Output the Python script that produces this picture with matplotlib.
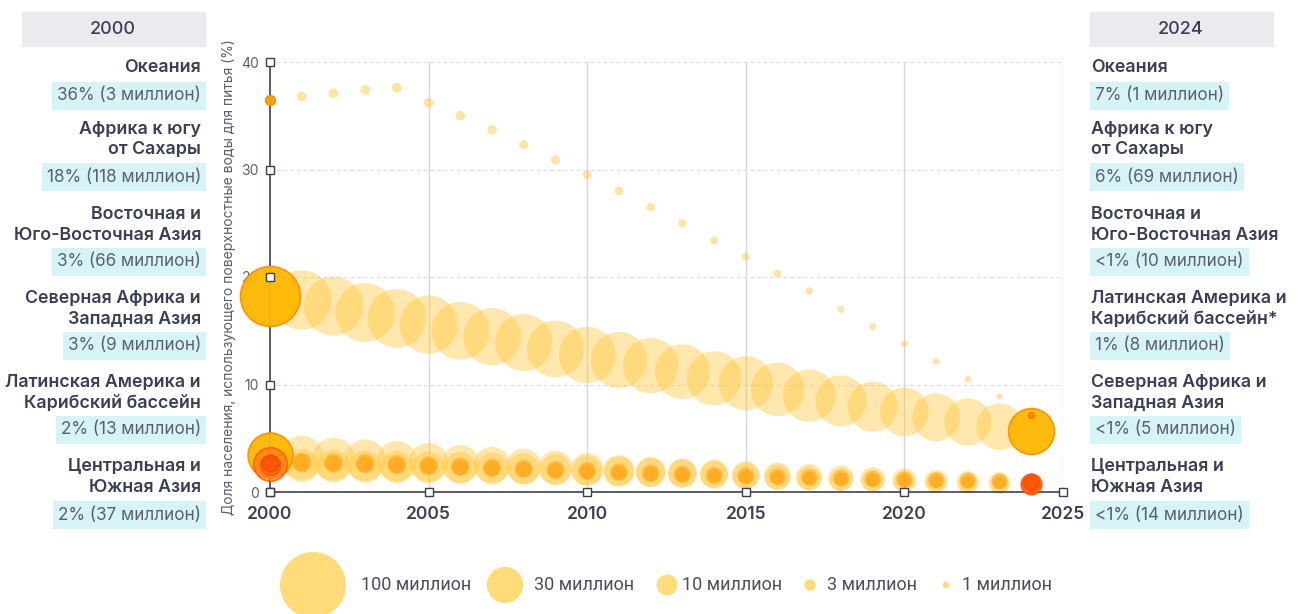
import numpy as np
import matplotlib.pyplot as plt

# ---- data ----
years = list(range(2000, 2025))

oceania_pct = [36.5, 36.8, 37.1, 37.4, 37.6, 36.2, 35.0, 33.7, 32.3, 30.9, 29.5, 28.0, 26.5,
               25.0, 23.4, 21.9, 20.3, 18.7, 17.0, 15.4, 13.8, 12.15, 10.5, 8.87, 7.2]
oceania_pop = [3.0, 3.1, 3.1, 3.1, 3.1, 3.0, 2.9, 2.8, 2.7, 2.6, 2.5, 2.4, 2.3,
               2.2, 2.1, 2.0, 1.9, 1.8, 1.7, 1.6, 1.5, 1.4, 1.3, 1.2, 1.0]

ssa_pct = [18.2, 17.86, 17.3, 16.7, 16.15, 15.57, 15.0, 14.45, 13.9, 13.3, 12.74, 12.28, 11.75,
           11.19, 10.57, 10.11, 9.55, 8.96, 8.47, 7.94, 7.44, 6.95, 6.51, 6.08, 5.67]
ssa_pop = [118, 116, 115, 114, 113, 111, 110, 108, 107, 106, 105, 103, 101,
           98, 97, 96, 94, 90, 86, 82, 78, 75, 73, 71, 69]

esea_pct = [3.44, 3.2, 3.05, 2.95, 2.85, 2.75, 2.62, 2.5, 2.38, 2.25, 2.1, 1.97, 1.85,
            1.72, 1.6, 1.48, 1.37, 1.27, 1.17, 1.08, 1.0, 0.93, 0.86, 0.8, 0.75]
esea_pop = [66, 63, 60, 57, 54, 50, 47, 44, 41, 38, 35, 32, 29,
            27, 25, 23, 21, 19, 17, 15.5, 14, 13, 12, 11, 10]

csa_pct = [2.6, 2.46, 2.42, 2.38, 2.34, 2.3, 2.25, 2.2, 2.14, 2.08, 2.0, 1.92, 1.84,
           1.76, 1.68, 1.58, 1.48, 1.38, 1.28, 1.18, 1.08, 0.98, 0.9, 0.83, 0.78]
csa_pop = [37, 36, 35.5, 35, 34.5, 34, 33.5, 33, 32, 31, 30, 29, 28,
           27, 26, 25, 24, 23, 21.5, 20, 19, 17.5, 16.5, 15.5, 14]

lac_pct = [2.55, 2.75, 2.7, 2.65, 2.55, 2.45, 2.35, 2.25, 2.15, 2.05, 1.95, 1.85, 1.75,
           1.65, 1.55, 1.5, 1.42, 1.35, 1.27, 1.2, 1.15, 1.1, 1.05, 1.0, 0.95]
lac_pop = [13, 12.8, 12.5, 12.3, 12.0, 11.8, 11.5, 11.2, 11.0, 10.7, 10.5, 10.2, 10.0,
           9.8, 9.6, 9.4, 9.2, 9.0, 8.8, 8.7, 8.5, 8.4, 8.2, 8.1, 8.0]

nawa_pct = [2.7, 2.72, 2.65, 2.58, 2.5, 2.4, 2.3, 2.2, 2.1, 2.0, 1.9, 1.8, 1.7,
            1.6, 1.5, 1.42, 1.34, 1.26, 1.18, 1.1, 1.03, 0.96, 0.9, 0.85, 0.8]
nawa_pop = [9, 8.9, 8.7, 8.5, 8.3, 8.1, 7.9, 7.7, 7.5, 7.3, 7.1, 6.9, 6.7,
            6.5, 6.3, 6.1, 5.9, 5.8, 5.6, 5.5, 5.4, 5.3, 5.2, 5.1, 5.0]

left_names = ["Океания", "Африка к югу\nот Сахары", "Восточная и\nЮго-Восточная Азия",
              "Северная Африка и\nЗападная Азия", "Латинская Америка и\nКарибский бассейн",
              "Центральная и\nЮжная Азия"]
left_values = ["36% (3 миллион)", "18% (118 миллион)", "3% (66 миллион)",
               "3% (9 миллион)", "2% (13 миллион)", "2% (37 миллион)"]
right_names = ["Океания", "Африка к югу\nот Сахары", "Восточная и\nЮго-Восточная Азия",
               "Латинская Америка и\nКарибский бассейн*", "Северная Африка и\nЗападная Азия",
               "Центральная и\nЮжная Азия"]
right_values = ["7% (1 миллион)", "6% (69 миллион)", "<1% (10 миллион)",
                "1% (8 миллион)", "<1% (5 миллион)", "<1% (14 миллион)"]

legend_pops = [100, 30, 10, 3, 1]
legend_labels = ["100 миллион", "30 миллион", "10 миллион", "3 миллион", "1 миллион"]

# ---- style ----
W, H, DPI = 1300, 614, 100
DARK = "#3b3f55"
GREY = "#5b5f6e"
K = 2.76  # bubble radius in px per sqrt(million)

def size(pop, k=K):
    r_pt = k * np.sqrt(np.asarray(pop, float)) * 72 / DPI
    return (2 * r_pt) ** 2

def fx(x):
    return x / W

def fy(y):
    return 1 - y / H

plt.rcParams['font.family'] = ['Inter', 'DejaVu Sans']

fig = plt.figure(figsize=(W / DPI, H / DPI), dpi=DPI)
ax = fig.add_axes([fx(270), fy(492), (1063 - 270) / W, (492 - 62) / H])

# trajectories (faded)
series = [
    (oceania_pct, oceania_pop, "#ffc533", 0.45),
    (ssa_pct, ssa_pop, "#ffc533", 0.4),
    (esea_pct, esea_pop, "#ffc533", 0.4),
    (csa_pct, csa_pop, "#ffc533", 0.4),
    (lac_pct, lac_pop, "#ff9900", 0.45),
    (nawa_pct, nawa_pop, "#ff9900", 0.45),
]
for pct, pop, col, a in series:
    ax.scatter(years[1:-1], pct[1:-1], s=size(pop[1:-1]), color=col, alpha=a,
               linewidths=0, zorder=3, clip_on=False)

# highlighted endpoints
hl_2000 = [
    (esea_pct, esea_pop, "#ffb800", "#ff9000", 0.95),
    (ssa_pct, ssa_pop, "#ffb800", "#ff9000", 0.95),
    (oceania_pct, oceania_pop, "#ffa000", "#ff8800", 0.95),
    (csa_pct, csa_pop, "#ff7a1a", "#ff5500", 0.75),
    (lac_pct, lac_pop, "#ff5a10", "#ff4000", 0.6),
    (nawa_pct, nawa_pop, "#ff4a00", "#ff3a00", 0.6),
]
for pct, pop, fc, ec, a in hl_2000:
    ax.scatter([years[0]], [pct[0]], s=size([pop[0]]), facecolor=fc, edgecolor=ec,
               linewidths=1.2, alpha=a, zorder=5, clip_on=False)

hl_2024 = [
    (ssa_pct, ssa_pop, "#ffb800", "#ff9000", 0.95),
    (oceania_pct, oceania_pop, "#ff8a1a", "#ff6a00", 0.8),
    (csa_pct, csa_pop, "#ff7a1a", "#ff5500", 0.85),
    (esea_pct, esea_pop, "#ff6a10", "#ff4a00", 0.6),
    (lac_pct, lac_pop, "#ff5a10", "#ff4000", 0.5),
    (nawa_pct, nawa_pop, "#ff4a00", "#ff3a00", 0.5),
]
for pct, pop, fc, ec, a in hl_2024:
    ax.scatter([years[-1]], [pct[-1]], s=size([pop[-1]]), facecolor=fc, edgecolor=ec,
               linewidths=1.2, alpha=a, zorder=5, clip_on=False)

ax.set_xlim(2000, 2025)
ax.set_ylim(0, 40)
xt = [2000, 2005, 2010, 2015, 2020, 2025]
yt = [0, 10, 20, 30, 40]
ax.set_xticks(xt)
ax.set_yticks(yt)
ax.set_xticklabels([str(v) for v in xt], fontsize=12.5, fontweight='semibold', color=DARK)
ax.set_yticklabels([str(v) for v in yt], fontsize=10, color=GREY)
ax.tick_params(axis='both', length=0)
ax.tick_params(axis='y', pad=8)
ax.tick_params(axis='x', pad=10)
for v in xt[1:]:
    ax.axvline(v, color="#d8d8dc", lw=1, zorder=1)
for v in yt[1:]:
    ax.axhline(v, color="#dcdce0", lw=0.8, ls=(0, (3, 3)), zorder=1)
for s in ['top', 'right']:
    ax.spines[s].set_visible(False)
for s in ['left', 'bottom']:
    ax.spines[s].set_color(DARK)
    ax.spines[s].set_linewidth(1.2)
    ax.spines[s].set_zorder(4)
ax.plot(xt, [0] * len(xt), ls='none', marker='s', ms=5.5, mfc='white', mec=DARK,
        mew=1, clip_on=False, zorder=7)
ax.plot([2000] * len(yt), yt, ls='none', marker='s', ms=5.5, mfc='white', mec=DARK,
        mew=1, clip_on=False, zorder=7)
ax.set_ylabel("Доля населения, использующего поверхностные воды для питья (%)",
              fontsize=10, color=GREY, labelpad=6)
ax.yaxis.set_label_coords(-0.043, 0.5)

# ---- side panels ----
fig.patches.append(plt.Rectangle((fx(22), fy(46)), (205 - 22) / W, 34 / H,
                                 transform=fig.transFigure, color="#ebebef", zorder=0))
fig.patches.append(plt.Rectangle((fx(1090), fy(46)), (1273 - 1090) / W, 34 / H,
                                 transform=fig.transFigure, color="#ebebef", zorder=0))
fig.text(fx(113), fy(29), "2000", ha='center', va='center', fontsize=13,
         fontweight='medium', color=DARK)
fig.text(fx(1181), fy(29), "2024", ha='center', va='center', fontsize=13,
         fontweight='medium', color=DARK)

name_y = [68, 139.5, 225, 309, 393, 477]
val_y = [96, 177, 262, 346, 430, 515]
box = dict(boxstyle='square,pad=0.3', fc="#d6f3f8", ec='none')
for n, v, yn, yv in zip(left_names, left_values, name_y, val_y):
    fig.text(fx(201), fy(yn), n, ha='right', va='center', fontsize=12.8,
             fontweight='semibold', color=DARK, linespacing=1.25)
    fig.text(fx(201), fy(yv), v, ha='right', va='center', fontsize=12.3,
             color=GREY, bbox=box)
for n, v, yn, yv in zip(right_names, right_values, name_y, val_y):
    fig.text(fx(1091), fy(yn), n, ha='left', va='center', fontsize=12.8,
             fontweight='semibold', color=DARK, linespacing=1.25)
    fig.text(fx(1095), fy(yv), v, ha='left', va='center', fontsize=12.3,
             color=GREY, bbox=box)

# ---- size legend ----
lax = fig.add_axes([0, 0, 1, 1], zorder=-1)
lax.set_xlim(0, W)
lax.set_ylim(H, 0)
lax.axis('off')
leg_cx = [313, 505, 667, 810, 946]
leg_tx = [361, 534, 682, 827, 962]
lax.scatter(leg_cx, [585] * len(leg_cx), s=size(legend_pops, 3.3), color="#ffdb7a",
            linewidths=0, clip_on=False)
for tx, lab in zip(leg_tx, legend_labels):
    lax.text(tx, 585, lab, ha='left', va='center', fontsize=13, color="#4a4e5e",
             family=['Roboto', 'DejaVu Sans'])

fig.savefig("out.png", dpi=DPI)
